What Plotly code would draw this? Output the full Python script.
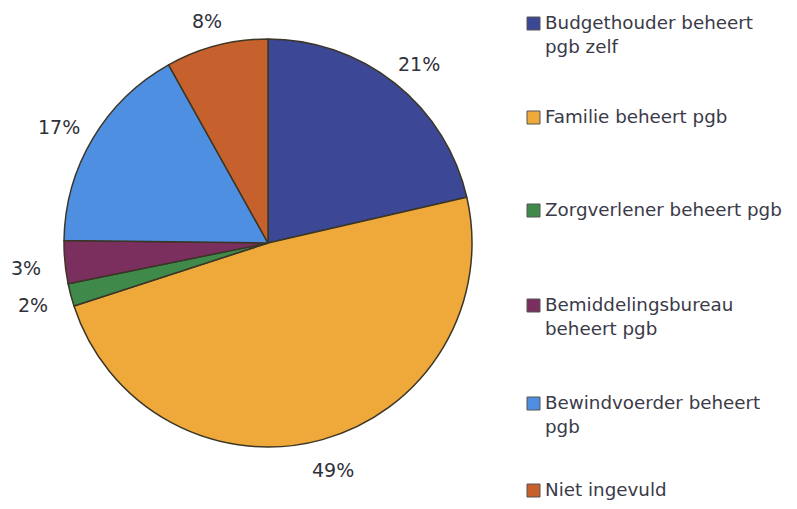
import math
import plotly.graph_objects as go

labels = ["Budgethouder beheert pgb zelf", "Familie beheert pgb", "Zorgverlener beheert pgb",
          "Bemiddelingsbureau beheert pgb", "Bewindvoerder beheert pgb", "Niet ingevuld"]
legend_text = ["Budgethouder beheert<br>pgb zelf", "Familie beheert pgb", "Zorgverlener beheert pgb",
               "Bemiddelingsbureau<br>beheert pgb", "Bewindvoerder beheert<br>pgb", "Niet ingevuld"]
values = [21.4, 48.6, 1.8, 3.4, 16.7, 8.1]
colors = ["#3C4795", "#EFA93B", "#3F8A4A", "#7B2F5F", "#4E8FE2", "#C6602C"]

# page has an 8px body margin; figure sized to fit the window
OFF = 8
W, H = 797 - 2 * OFF, 509 - 2 * OFF


def px_x(x):
    return (x - OFF) / W


def px_y(y):
    return 1 - (y - OFF) / H


cx, cy, r = 268, 243, 204

fig = go.Figure(go.Pie(
    labels=labels, values=values, sort=False, direction="clockwise", rotation=0,
    marker=dict(colors=colors, line=dict(color="#3b3626", width=1.5)),
    textinfo="none", hoverinfo="label+percent", showlegend=False,
    domain=dict(x=[px_x(cx - r), px_x(cx + r)], y=[px_y(cy + r), px_y(cy - r)]),
))

annotations = []
total = sum(values)
cum = 0
Rx, Ry = 243, 232
for v in values:
    mid = (cum + v / 2) / total * 2 * math.pi
    cum += v
    lx = cx + Rx * math.sin(mid)
    ly = cy + 3 - Ry * math.cos(mid)
    annotations.append(dict(x=px_x(lx), y=px_y(ly), xref="paper", yref="paper",
                            text=f"{round(v / total * 100)}%", showarrow=False,
                            font=dict(family="DejaVu Sans", size=19, color="#30303a"),
                            xanchor="center", yanchor="middle"))

shapes = []
leg_y = [23, 117, 210, 305, 403, 490]
for txt, col, ly in zip(legend_text, colors, leg_y):
    annotations.append(dict(x=px_x(543), y=px_y(ly - 13), xref="paper", yref="paper",
                            text=txt, showarrow=False, align="left",
                            xanchor="left", yanchor="top",
                            font=dict(family="DejaVu Sans", size=18.3, color="#3a3a48")))
    shapes.append(dict(type="rect", xref="paper", yref="paper",
                       x0=px_x(527), x1=px_x(540), y0=px_y(ly + 7), y1=px_y(ly - 6),
                       fillcolor=col, line=dict(color="#555555", width=1)))

fig.update_layout(width=W, height=H, margin=dict(l=0, r=0, t=0, b=0),
                  paper_bgcolor="white", plot_bgcolor="white",
                  annotations=annotations, shapes=shapes)
fig.write_html("out.html")
